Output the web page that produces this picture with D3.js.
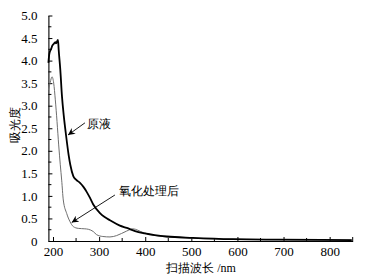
<!DOCTYPE html>
<html>
<head>
<meta charset="utf-8">
<script src="https://cdn.jsdelivr.net/npm/d3@7"></script>
<style>
  html, body { margin: 0; padding: 0; background: #fff; }
  svg { display: block; }
</style>
</head>
<body>
<div id="chart"></div>
<script>
// wavelength (nm) / absorbance
const rawWave = [190, 192, 196, 198.5, 201.5, 205, 206.5, 210.8, 212.3, 215.8, 219.5, 223.2, 228.2, 234, 237.5, 244, 250, 258.5, 266, 273, 280, 287.3, 301.8, 312, 323.5, 345, 360, 378, 399, 447, 503, 590, 690, 848];
const rawAbs  = [3.95, 4.15, 4.26, 4.33, 4.37, 4.41, 4.38, 4.46, 4.24, 3.8, 3.2, 2.79, 2.35, 1.9, 1.69, 1.44, 1.36, 1.29, 1.2, 1.09, 0.96, 0.81, 0.62, 0.53, 0.46, 0.34, 0.29, 0.22, 0.17, 0.1, 0.07, 0.04, 0.03, 0.02];

const oxWave = [190, 194, 197.8, 201.5, 205, 208.7, 212.3, 215.8, 218.8, 222.3, 229.7, 236.8, 244, 254.8, 269, 276.5, 287.3, 294.6, 308, 323.5, 338, 359.6, 373, 395, 416.6, 447, 481.5, 583, 848];
const oxAbs  = [3.35, 3.52, 3.64, 3.5, 3.13, 2.65, 2.13, 1.69, 1.35, 0.91, 0.61, 0.43, 0.32, 0.28, 0.27, 0.26, 0.21, 0.14, 0.1, 0.09, 0.12, 0.22, 0.27, 0.19, 0.13, 0.09, 0.07, 0.04, 0.02];

const yMajor = [0, 0.5, 1, 1.5, 2, 2.5, 3, 3.5, 4, 4.5, 5];
const yMinor = [0.25, 0.75, 1.25, 1.75, 2.25, 2.75, 3.25, 3.75, 4.25, 4.75];
const xMajor = [200, 300, 400, 500, 600, 700, 800];
const xMinor = [250, 350, 450, 550, 650, 750, 850];

// annotations: [text, textX, textY, arrowFromX, arrowFromY, arrowToX, arrowToY] in data units
const notes = [
  ["原液", 273.6, 2.59, 269.3, 2.62, 232.5, 2.35],
  ["氧化处理后", 343, 1.11, 334.3, 1.02, 240.5, 0.41]
];

const width = 366;
const height = 279;
const margin = { top: 15.5, right: 13.3, bottom: 38, left: 48.4 };
const serif = "'Liberation Serif', 'Times New Roman', 'DejaVu Serif', serif";

const x = d3.scaleLinear().domain([190, 850]).range([margin.left, width - margin.right]);
const y = d3.scaleLinear().domain([0, 5]).range([height - margin.bottom, margin.top]);

const svg = d3.select("#chart")
  .append("svg")
  .attr("width", width)
  .attr("height", height);

svg.append("defs").append("marker")
  .attr("id", "arrow")
  .attr("viewBox", "0 0 10 10")
  .attr("refX", 10)
  .attr("refY", 5)
  .attr("markerWidth", 7)
  .attr("markerHeight", 7)
  .attr("markerUnits", "userSpaceOnUse")
  .attr("orient", "auto")
  .append("path")
  .attr("d", "M0,0 L10,5 L0,10 L3,5 Z")
  .attr("fill", "#000");

// axes, ticks point inward
const yAxis = svg.append("g")
  .attr("transform", `translate(${margin.left},0)`)
  .call(d3.axisLeft(y).tickValues(yMajor).tickSize(-4).tickSizeOuter(0).tickPadding(11)
    .tickFormat(d => d === 0 ? "0" : d3.format(".1f")(d)));
yAxis.append("g").selectAll("line")
  .data(yMinor)
  .join("line")
  .attr("x1", 0).attr("x2", 3)
  .attr("y1", d => y(d)).attr("y2", d => y(d))
  .attr("stroke", "#000");

const xAxis = svg.append("g")
  .attr("transform", `translate(0,${height - margin.bottom})`)
  .call(d3.axisBottom(x).tickValues(xMajor).tickSize(-4).tickSizeOuter(0).tickPadding(6));
xAxis.append("g").selectAll("line")
  .data(xMinor)
  .join("line")
  .attr("x1", d => x(d)).attr("x2", d => x(d))
  .attr("y1", 0).attr("y2", d => d === 850 ? -4 : -3)
  .attr("stroke", "#000");

svg.selectAll(".tick text")
  .style("font-family", serif)
  .style("font-size", "13px")
  .style("fill", "#000");
svg.selectAll(".domain").attr("stroke", "#000").attr("stroke-width", 1.1);

// curves
const line = d3.line().curve(d3.curveMonotoneX);

svg.append("path")
  .datum(oxWave.map((w, i) => [x(w), y(oxAbs[i])]))
  .attr("d", line)
  .attr("fill", "none")
  .attr("stroke", "#6e6e6e")
  .attr("stroke-width", 1);

svg.append("path")
  .datum(rawWave.map((w, i) => [x(w), y(rawAbs[i])]))
  .attr("d", line)
  .attr("fill", "none")
  .attr("stroke", "#000")
  .attr("stroke-width", 1.8);

// annotations
notes.forEach(n => {
  svg.append("line")
    .attr("x1", x(n[3])).attr("y1", y(n[4]))
    .attr("x2", x(n[5])).attr("y2", y(n[6]))
    .attr("stroke", "#000")
    .attr("stroke-width", 0.9)
    .attr("marker-end", "url(#arrow)");
  svg.append("text")
    .attr("x", x(n[1]))
    .attr("y", y(n[2]))
    .attr("dy", "0.35em")
    .style("font-family", serif)
    .style("font-size", "11.5px")
    .text(n[0]);
});

// axis titles
svg.append("text")
  .attr("transform", `translate(15,125) rotate(-90)`)
  .attr("text-anchor", "middle")
  .attr("dy", "0.35em")
  .style("font-family", serif)
  .style("font-size", "12px")
  .text("吸光度");

svg.append("text")
  .attr("x", 201)
  .attr("y", 268)
  .attr("text-anchor", "middle")
  .attr("dy", "0.35em")
  .style("font-family", serif)
  .style("font-size", "12px")
  .text("扫描波长 /nm");
</script>
</body>
</html>
